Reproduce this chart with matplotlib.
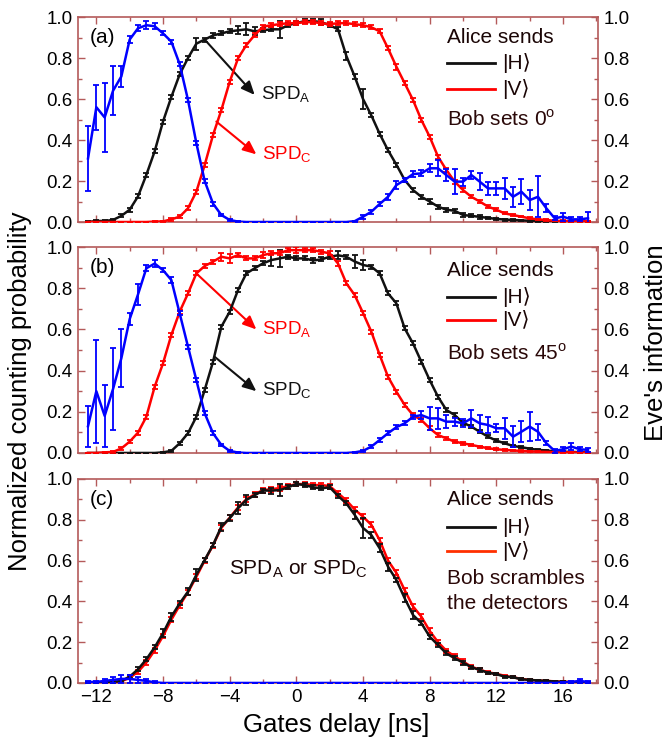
"""
Gate-delay scan: counting probability of the two detectors and Eve's
information, for three settings of Bob's basis.
"""
import matplotlib
matplotlib.use("Agg")
import matplotlib.pyplot as plt
from matplotlib.ticker import MultipleLocator, FormatStrFormatter

plt.rcParams["font.family"] = ["Liberation Sans", "DejaVu Sans"]
plt.rcParams["mathtext.fontset"] = "custom"
plt.rcParams["mathtext.rm"] = "Liberation Sans"

# gate delay in ns (sampled every 0.5 ns)
delay = [-12.5, -12, -11.5, -11, -10.5, -10, -9.5, -9, -8.5, -8, -7.5, -7,
         -6.5, -6, -5.5, -5, -4.5, -4, -3.5, -3, -2.5, -2, -1.5, -1, -0.5,
         0, 0.5, 1, 1.5, 2, 2.5, 3, 3.5, 4, 4.5, 5, 5.5, 6, 6.5, 7, 7.5,
         8, 8.5, 9, 9.5, 10, 10.5, 11, 11.5, 12, 12.5, 13, 13.5, 14, 14.5,
         15, 15.5, 16, 16.5, 17, 17.5]

# ---- panel (a): Bob sets 0 deg ----
a_h = [0.0, 0.005, 0.005, 0.01, 0.03, 0.06, 0.125, 0.23, 0.345, 0.49, 0.61, 0.72,
       0.80, 0.87, 0.89, 0.91, 0.92, 0.93, 0.935, 0.94, 0.93, 0.935, 0.94, 0.94, 0.96,
       0.97, 0.98, 0.98, 0.975, 0.96, 0.94, 0.81, 0.71, 0.60, 0.52, 0.43, 0.35, 0.28, 0.205, 0.156, 0.123,
       0.10, 0.075, 0.06, 0.055, 0.034, 0.03, 0.025, 0.02, 0.015, 0.012, 0.01, 0.008, 0.006, 0.005,
       0.004, 0.003, 0.003, 0.002, 0.002, 0.002]
a_h_err = [0.003, 0.003, 0.003, 0.005, 0.008, 0.01, 0.01, 0.01, 0.01, 0.01, 0.01, 0.01,
           0.01, 0.03, 0.01, 0.01, 0.01, 0.01, 0.02, 0.03, 0.02, 0.01, 0.01, 0.04, 0.01,
           0.01, 0.01, 0.01, 0.015, 0.01, 0.01, 0.02, 0.01, 0.05, 0.01, 0.01, 0.01, 0.01, 0.01, 0.01, 0.01,
           0.01, 0.01, 0.01, 0.01, 0.008, 0.008, 0.008, 0.006, 0.006, 0.005, 0.005, 0.004, 0.004, 0.003,
           0.003, 0.003, 0.003, 0.002, 0.002, 0.002]
a_v = [0.0, 0.0, 0.0, 0.0, 0.0, 0.0, 0.0, 0.0, 0.002, 0.003, 0.013, 0.026,
       0.067, 0.148, 0.278, 0.424, 0.546, 0.684, 0.798, 0.863, 0.912, 0.953, 0.96, 0.965, 0.97,
       0.97, 0.975, 0.975, 0.97, 0.965, 0.97, 0.97, 0.965, 0.96, 0.95, 0.93, 0.847, 0.758, 0.677, 0.595, 0.498,
       0.416, 0.319, 0.254, 0.197, 0.156, 0.123, 0.10, 0.075, 0.06, 0.042, 0.034, 0.026, 0.018, 0.013,
       0.01, 0.006, 0.005, 0.004, 0.003, 0.003]
a_v_err = [0.002, 0.002, 0.002, 0.002, 0.002, 0.002, 0.002, 0.002, 0.003, 0.004, 0.006, 0.008,
           0.01, 0.01, 0.01, 0.01, 0.01, 0.01, 0.01, 0.01, 0.01, 0.01, 0.01, 0.01, 0.01,
           0.01, 0.01, 0.01, 0.01, 0.01, 0.01, 0.01, 0.01, 0.01, 0.01, 0.01, 0.01, 0.015, 0.01, 0.01, 0.01,
           0.01, 0.01, 0.01, 0.01, 0.01, 0.008, 0.008, 0.006, 0.006, 0.005, 0.005, 0.004, 0.004, 0.003,
           0.003, 0.003, 0.003, 0.002, 0.002, 0.002]
a_eve = [0.31, 0.56, 0.51, 0.64, 0.71, 0.89, 0.945, 0.96, 0.955, 0.92, 0.88, 0.77,
         0.595, 0.385, 0.2, 0.09, 0.034, 0.01, 0.002, 0.0, 0.0, 0.0, 0.0, 0.0, 0.0,
         0.0, 0.0, 0.0, 0.0, 0.0, 0.0, 0.0, 0.004, 0.026, 0.05, 0.088, 0.123, 0.18, 0.205, 0.234, 0.237,
         0.262, 0.262, 0.229, 0.197, 0.197, 0.229, 0.197, 0.164, 0.164, 0.164, 0.123, 0.148, 0.107, 0.123,
         0.067, 0.018, 0.026, 0.013, 0.013, 0.018]
a_eve_err = [0.16, 0.11, 0.17, 0.12, 0.05, 0.015, 0.015, 0.02, 0.015, 0.01, 0.01, 0.01,
             0.01, 0.01, 0.01, 0.01, 0.005, 0.003, 0.002, 0.0, 0.0, 0.0, 0.0, 0.0, 0.0,
             0.0, 0.0, 0.0, 0.0, 0.0, 0.0, 0.0, 0.003, 0.01, 0.01, 0.01, 0.015, 0.02, 0.01, 0.015, 0.015,
             0.02, 0.04, 0.03, 0.06, 0.02, 0.02, 0.04, 0.03, 0.03, 0.05, 0.05, 0.06, 0.05, 0.1,
             0.02, 0.01, 0.02, 0.01, 0.01, 0.03]

# ---- panel (b): Bob sets 45 deg ----
b_h = [0.0, 0.0, 0.0, 0.0, 0.0, 0.0, 0.0, 0.0, 0.0, 0.003, 0.01, 0.047,
       0.096, 0.176, 0.306, 0.443, 0.613, 0.686, 0.791, 0.872, 0.897, 0.921, 0.937, 0.945, 0.953,
       0.945, 0.945, 0.935, 0.94, 0.953, 0.96, 0.953, 0.93, 0.913, 0.905, 0.872, 0.775, 0.727, 0.605, 0.532, 0.443,
       0.354, 0.273, 0.209, 0.184, 0.147, 0.128, 0.103, 0.079, 0.06, 0.047, 0.034, 0.028, 0.021, 0.015,
       0.012, 0.008, 0.006, 0.005, 0.004, 0.003]
b_h_err = [0.002, 0.002, 0.002, 0.002, 0.002, 0.002, 0.002, 0.002, 0.002, 0.003, 0.005, 0.008,
           0.01, 0.01, 0.01, 0.01, 0.01, 0.01, 0.01, 0.01, 0.01, 0.01, 0.03, 0.04, 0.01,
           0.01, 0.01, 0.01, 0.01, 0.01, 0.02, 0.01, 0.03, 0.025, 0.01, 0.01, 0.01, 0.01, 0.01, 0.01, 0.01,
           0.01, 0.01, 0.01, 0.01, 0.01, 0.008, 0.008, 0.006, 0.006, 0.005, 0.005, 0.004, 0.004, 0.003,
           0.003, 0.003, 0.003, 0.002, 0.002, 0.002]
b_v = [0.0, 0.0, 0.003, 0.005, 0.022, 0.055, 0.099, 0.176, 0.322, 0.435, 0.573, 0.686,
       0.775, 0.872, 0.908, 0.929, 0.953, 0.945, 0.961, 0.945, 0.945, 0.961, 0.97, 0.97, 0.985,
       0.985, 0.985, 0.985, 0.977, 0.97, 0.92, 0.824, 0.767, 0.68, 0.589, 0.476, 0.37, 0.298, 0.233, 0.184, 0.16,
       0.12, 0.087, 0.071, 0.055, 0.047, 0.039, 0.031, 0.023, 0.018, 0.015, 0.012, 0.01, 0.008, 0.006,
       0.005, 0.004, 0.003, 0.003, 0.002, 0.002]
b_v_err = [0.002, 0.002, 0.003, 0.004, 0.006, 0.008, 0.01, 0.01, 0.01, 0.01, 0.01, 0.01,
           0.01, 0.01, 0.01, 0.01, 0.02, 0.02, 0.01, 0.01, 0.01, 0.015, 0.01, 0.01, 0.01,
           0.015, 0.01, 0.01, 0.01, 0.01, 0.01, 0.01, 0.01, 0.01, 0.01, 0.01, 0.01, 0.01, 0.01, 0.01, 0.01,
           0.01, 0.008, 0.008, 0.006, 0.006, 0.005, 0.005, 0.004, 0.004, 0.003, 0.003, 0.003, 0.003, 0.002,
           0.002, 0.002, 0.002, 0.002, 0.002, 0.002]
b_eve = [0.13, 0.30, 0.18, 0.31, 0.46, 0.65, 0.77, 0.897, 0.92, 0.888, 0.84, 0.678,
         0.516, 0.354, 0.193, 0.096, 0.039, 0.01, 0.002, 0.0, 0.0, 0.0, 0.0, 0.0, 0.0,
         0.0, 0.0, 0.0, 0.0, 0.0, 0.0, 0.0, 0.003, 0.01, 0.031, 0.063, 0.096, 0.125, 0.144, 0.176, 0.184,
         0.168, 0.168, 0.152, 0.152, 0.144, 0.168, 0.144, 0.136, 0.12, 0.12, 0.079, 0.103, 0.128, 0.103,
         0.047, 0.01, 0.018, 0.031, 0.018, 0.015]
b_eve_err = [0.10, 0.25, 0.15, 0.20, 0.14, 0.03, 0.05, 0.015, 0.015, 0.01, 0.015, 0.01,
             0.01, 0.01, 0.01, 0.01, 0.005, 0.003, 0.002, 0.0, 0.0, 0.0, 0.0, 0.0, 0.0,
             0.0, 0.0, 0.0, 0.0, 0.0, 0.0, 0.0, 0.002, 0.005, 0.008, 0.01, 0.01, 0.01, 0.01, 0.01, 0.02,
             0.055, 0.05, 0.03, 0.02, 0.02, 0.04, 0.04, 0.04, 0.02, 0.05, 0.05, 0.05, 0.07, 0.04,
             0.01, 0.01, 0.01, 0.015, 0.01, 0.01]

# ---- panel (c): Bob scrambles the detectors ----
c_h = [0.003, 0.003, 0.004, 0.005, 0.01, 0.031, 0.067, 0.116, 0.175, 0.244, 0.325, 0.39,
       0.448, 0.53, 0.603, 0.676, 0.766, 0.807, 0.856, 0.897, 0.92, 0.943, 0.943, 0.945, 0.959,
       0.975, 0.97, 0.959, 0.954, 0.959, 0.917, 0.88, 0.824, 0.76, 0.725, 0.66, 0.57, 0.505, 0.415, 0.333, 0.293,
       0.227, 0.186, 0.145, 0.121, 0.10, 0.077, 0.064, 0.05, 0.043, 0.031, 0.028, 0.018, 0.015, 0.012,
       0.01, 0.007, 0.005, 0.004, 0.003, 0.003]
c_h_err = [0.002, 0.002, 0.002, 0.003, 0.005, 0.008, 0.01, 0.01, 0.01, 0.02, 0.02, 0.01,
           0.015, 0.03, 0.01, 0.01, 0.02, 0.015, 0.03, 0.025, 0.01, 0.01, 0.015, 0.03, 0.01,
           0.01, 0.01, 0.01, 0.01, 0.01, 0.01, 0.01, 0.02, 0.05, 0.015, 0.02, 0.02, 0.01, 0.02, 0.02, 0.01,
           0.01, 0.01, 0.01, 0.01, 0.01, 0.008, 0.008, 0.006, 0.006, 0.005, 0.005, 0.004, 0.004, 0.003,
           0.003, 0.003, 0.003, 0.002, 0.002, 0.002]
c_v = [0.002, 0.002, 0.003, 0.004, 0.008, 0.025, 0.055, 0.10, 0.16, 0.23, 0.31, 0.38,
       0.445, 0.52, 0.60, 0.675, 0.76, 0.81, 0.86, 0.90, 0.925, 0.945, 0.95, 0.955, 0.965,
       0.975, 0.975, 0.97, 0.97, 0.965, 0.93, 0.895, 0.85, 0.815, 0.775, 0.70, 0.60, 0.54, 0.455, 0.375, 0.325,
       0.255, 0.20, 0.158, 0.13, 0.105, 0.08, 0.065, 0.052, 0.045, 0.035, 0.028, 0.02, 0.015, 0.012,
       0.01, 0.008, 0.006, 0.005, 0.004, 0.003]
c_v_err = [0.002, 0.002, 0.002, 0.003, 0.005, 0.008, 0.01, 0.012, 0.012, 0.012, 0.012, 0.012,
           0.012, 0.012, 0.012, 0.012, 0.012, 0.012, 0.012, 0.012, 0.012, 0.012, 0.012, 0.012, 0.012,
           0.012, 0.012, 0.012, 0.012, 0.012, 0.012, 0.012, 0.012, 0.012, 0.012, 0.012, 0.012, 0.012, 0.012, 0.012, 0.012,
           0.012, 0.012, 0.01, 0.01, 0.01, 0.008, 0.008, 0.006, 0.006, 0.005, 0.005, 0.004, 0.004, 0.003,
           0.003, 0.003, 0.003, 0.002, 0.002, 0.002]
c_eve = [0.005, 0.005, 0.01, 0.015, 0.02, 0.02, 0.015, 0.01, 0.003, 0.0, 0.0, 0.0,
         0.0, 0.0, 0.0, 0.0, 0.0, 0.0, 0.0, 0.0, 0.0, 0.0, 0.0, 0.0, 0.0,
         0.0, 0.0, 0.0, 0.0, 0.0, 0.0, 0.0, 0.0, 0.0, 0.0, 0.0, 0.0, 0.0, 0.0, 0.0, 0.0,
         0.0, 0.0, 0.0, 0.0, 0.0, 0.0, 0.0, 0.0, 0.0, 0.0, 0.0, 0.0, 0.0, 0.0,
         0.0, 0.0, 0.002, 0.005, 0.01, 0.005]
c_eve_err = [0.005, 0.005, 0.01, 0.015, 0.02, 0.02, 0.015, 0.01, 0.005, 0.0, 0.0, 0.0,
             0.0, 0.0, 0.0, 0.0, 0.0, 0.0, 0.0, 0.0, 0.0, 0.0, 0.0, 0.0, 0.0,
             0.0, 0.0, 0.0, 0.0, 0.0, 0.0, 0.0, 0.0, 0.0, 0.0, 0.0, 0.0, 0.0, 0.0, 0.0, 0.0,
             0.0, 0.0, 0.0, 0.0, 0.0, 0.0, 0.0, 0.0, 0.0, 0.0, 0.0, 0.0, 0.0, 0.0,
             0.0, 0.0, 0.003, 0.005, 0.008, 0.005]

X_TICKS = [-12, -8, -4, 0, 4, 8, 12, 16]
Y_TICKS = [0.0, 0.2, 0.4, 0.6, 0.8, 1.0]

NEGRO = "#111111"
ROJO = "#ff0000"
AZUL = "#0000ff"
MARCO = "#b45a5a"

SUB_A = r"SPD$_\mathregular{A}$"
SUB_C = r"SPD$_\mathregular{C}$"


def curva(ax, y, err, color, z):
    ax.errorbar(delay, y, yerr=err, color=color, lw=1.8, elinewidth=1.3,
                capsize=2.5, capthick=1.3, zorder=z)


def preparar_ejes(ax, etiqueta, con_x):
    ax.set_xlim(-13.1, 18.1)
    ax.set_ylim(0, 1.0)
    ax.set_xticks(X_TICKS)
    ax.set_yticks(Y_TICKS)
    ax.xaxis.set_minor_locator(MultipleLocator(2))
    ax.yaxis.set_minor_locator(MultipleLocator(0.1))
    ax.yaxis.set_major_formatter(FormatStrFormatter("%.1f"))
    ax.tick_params(which="both", direction="in", top=True, right=True,
                   labelright=True, color=MARCO, labelsize=13.5, pad=4)
    ax.tick_params(which="major", length=5, width=1)
    ax.tick_params(which="minor", length=3, width=1)
    ax.tick_params(axis="x", labelbottom=con_x)
    for s in ax.spines.values():
        s.set_color(MARCO)
        s.set_linewidth(1.2)
    ax.text(0.023, 0.9, etiqueta, transform=ax.transAxes, fontsize=15,
            va="center", ha="left")


def leyenda(ax, ys, color_h, color_v, extra):
    y_alice, y_h, y_v = ys[:3]
    ax.text(0.709, y_alice, "Alice sends", transform=ax.transAxes,
            fontsize=15, va="center", color="#1a0505")
    for yy, col, lab in ((y_h, color_h, "|H\u27e9"), (y_v, color_v, "|V\u27e9")):
        ax.plot([0.71, 0.802], [yy, yy], transform=ax.transAxes,
                color=col, lw=2.0, clip_on=False)
        ax.text(0.815, yy, lab, transform=ax.transAxes, fontsize=15,
                va="center", color="#1a0505")
    for yy, txt in zip(ys[3:], extra):
        ax.text(0.709, yy, txt, transform=ax.transAxes, fontsize=15,
                va="center", color="#2a0808")


def flecha(ax, texto, xy, xytext, color):
    ax.annotate("", xy=xytext, xytext=xy,
                arrowprops=dict(arrowstyle="-|>,head_length=0.8,head_width=0.35",
                                color=color, lw=1.5, shrinkA=0, shrinkB=0))
    ax.text(xytext[0] + 0.35, xytext[1], texto, color=color, fontsize=13.5,
            va="center", ha="left")


def main():
    fig = plt.figure(figsize=(6.69, 7.46), dpi=100)
    ax_a = fig.add_axes([0.1166, 0.7024, 0.7773, 0.2748])
    ax_b = fig.add_axes([0.1166, 0.3928, 0.7773, 0.2760])
    ax_c = fig.add_axes([0.1166, 0.0845, 0.7773, 0.2735])

    # (a)
    curva(ax_a, a_h, a_h_err, NEGRO, 3)
    curva(ax_a, a_v, a_v_err, ROJO, 4)
    curva(ax_a, a_eve, a_eve_err, AZUL, 5)
    preparar_ejes(ax_a, "(a)", False)
    leyenda(ax_a, [0.90, 0.777, 0.647, 0.50], NEGRO, ROJO,
            [r"Bob sets 0$^\mathregular{o}$"])
    flecha(ax_a, SUB_A, (-5.5, 0.89), (-2.5, 0.62), NEGRO)
    flecha(ax_a, SUB_C, (-4.8, 0.49), (-2.4, 0.33), ROJO)

    # (b)
    curva(ax_b, b_h, b_h_err, NEGRO, 3)
    curva(ax_b, b_v, b_v_err, ROJO, 4)
    curva(ax_b, b_eve, b_eve_err, AZUL, 5)
    preparar_ejes(ax_b, "(b)", False)
    leyenda(ax_b, [0.888, 0.759, 0.646, 0.484], NEGRO, ROJO,
            [r"Bob sets 45$^\mathregular{o}$"])
    flecha(ax_b, SUB_A, (-6.0, 0.872), (-2.4, 0.60), ROJO)
    flecha(ax_b, SUB_C, (-4.9, 0.467), (-2.4, 0.30), NEGRO)

    # (c)
    curva(ax_c, c_v, c_v_err, ROJO, 3)
    curva(ax_c, c_h, c_h_err, NEGRO, 4)
    curva(ax_c, c_eve, c_eve_err, AZUL, 5)
    preparar_ejes(ax_c, "(c)", True)
    leyenda(ax_c, [0.897, 0.766, 0.647, 0.513, 0.39], NEGRO, "#ff3000",
            ["Bob scrambles", "the detectors"])
    ax_c.text(0.1, 0.56, SUB_A + " or " + SUB_C, fontsize=15, ha="center",
              va="center", color="#1a0505")

    fig.text(0.03, 0.475, "Normalized counting probability", rotation=90,
             fontsize=18.5, ha="center", va="center")
    fig.text(0.98, 0.54, "Eve's information", rotation=90,
             fontsize=18.5, ha="center", va="center")
    fig.text(0.5025, 0.028, "Gates delay [ns]", fontsize=18.5,
             ha="center", va="center")

    fig.savefig("out.png", dpi=100)
    plt.close(fig)


if __name__ == "__main__":
    main()
